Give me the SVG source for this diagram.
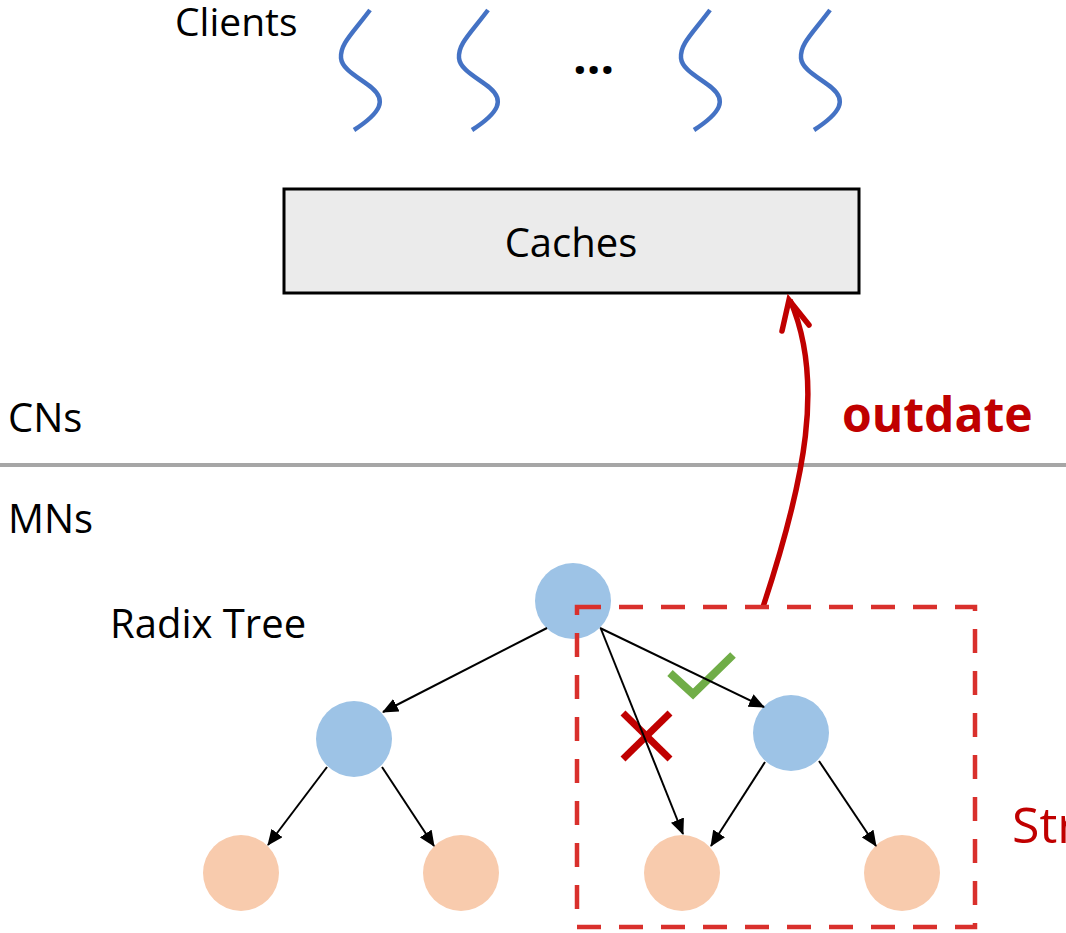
<svg xmlns="http://www.w3.org/2000/svg" width="1066" height="933" viewBox="0 0 1066 933">
<style>
.t{font-family:"Open Sans","Liberation Sans",sans-serif;font-size:40px;fill:#000}
.red{fill:#c00000}
.cli{fill:none;stroke:#4472c4;stroke-width:4.5}
.blue{fill:#9dc3e6}
.orange{fill:#f8cbad}
.edge{stroke:#000;stroke-width:2;fill:none;marker-end:url(#ah)}
</style>
<defs>
<marker id="ah" markerUnits="userSpaceOnUse" markerWidth="16" markerHeight="14" viewBox="0 0 16 14" refX="15" refY="7" orient="auto">
<path d="M0,0 L16,7 L0,14 Z" fill="#000"/>
</marker>
<path id="sq" d="M370,10 C352,34 340,44 341,58 C342,70 360,78 372,88 C386,100 382,112 354,130"/>
</defs>
<rect width="1066" height="933" fill="#fff"/>

<g id="clients">
<text class="t" x="175" y="36" style="font-size:39px">Clients</text>
<use href="#sq" class="cli"/>
<use href="#sq" class="cli" x="118"/>
<text class="t" x="573" y="74" style="font-weight:bold;font-size:48px;letter-spacing:0px">...</text>
<use href="#sq" class="cli" x="340"/>
<use href="#sq" class="cli" x="460"/>
</g>

<g id="caches">
<rect x="284" y="189" width="575" height="104" fill="#ebebeb" stroke="#000" stroke-width="3"/>
<text class="t" x="571" y="257" text-anchor="middle">Caches</text>
</g>

<g id="separator">
<line x1="0" y1="465" x2="1066" y2="465" stroke="#a6a6a6" stroke-width="4"/>
<text class="t" x="8" y="432">CNs</text>
<text class="t" x="8" y="533">MNs</text>
</g>

<g id="label-radix"><text class="t" x="110" y="638">Radix Tree</text></g>

<g id="root"><circle class="blue" cx="573" cy="601" r="38"/></g>
<g id="inner-left"><circle class="blue" cx="354" cy="739" r="38"/></g>
<g id="inner-right"><circle class="blue" cx="791" cy="733" r="38"/></g>
<g id="leaf1"><circle class="orange" cx="241" cy="873" r="38"/></g>
<g id="leaf2"><circle class="orange" cx="461" cy="873" r="38"/></g>
<g id="leaf3"><circle class="orange" cx="682" cy="873" r="38"/></g>
<g id="leaf4"><circle class="orange" cx="902" cy="873" r="38"/></g>

<g id="marks">
<polyline points="670,673 693,694 733,655" fill="none" stroke="#70ad47" stroke-width="8"/>
<line x1="623" y1="713" x2="670" y2="759" stroke="#c00000" stroke-width="7"/>
<line x1="670" y1="713" x2="623" y2="759" stroke="#c00000" stroke-width="7"/>
</g>

<g id="connectors">
<line class="edge" x1="547" y1="628" x2="383" y2="712"/>
<line class="edge" x1="327" y1="767" x2="268" y2="845"/>
<line class="edge" x1="382" y1="767" x2="434" y2="846"/>
<line class="edge" x1="600" y1="628" x2="764" y2="707"/>
<line class="edge" x1="601" y1="629" x2="683" y2="834"/>
<line class="edge" x1="765" y1="762" x2="711" y2="846"/>
<line class="edge" x1="819" y1="761" x2="876" y2="846"/>
<path d="M763,607 C805,480 825,380 790,300" fill="none" stroke="#c00000" stroke-width="5.5"/>
<polyline points="782,331 789,300 809,325" fill="none" stroke="#c00000" stroke-width="5.5" stroke-linecap="round" stroke-linejoin="miter"/>
</g>

<g id="change-box">
<rect x="577" y="607" width="398" height="320" fill="none" stroke="#d9302c" stroke-width="4.5" stroke-dasharray="24 18"/>
<text class="t red" x="1012" y="843" style="font-size:50px">Str</text>
</g>

<g id="label-outdate"><text class="t red" x="842" y="432" style="font-weight:bold;font-size:48px">outdate</text></g>
</svg>
